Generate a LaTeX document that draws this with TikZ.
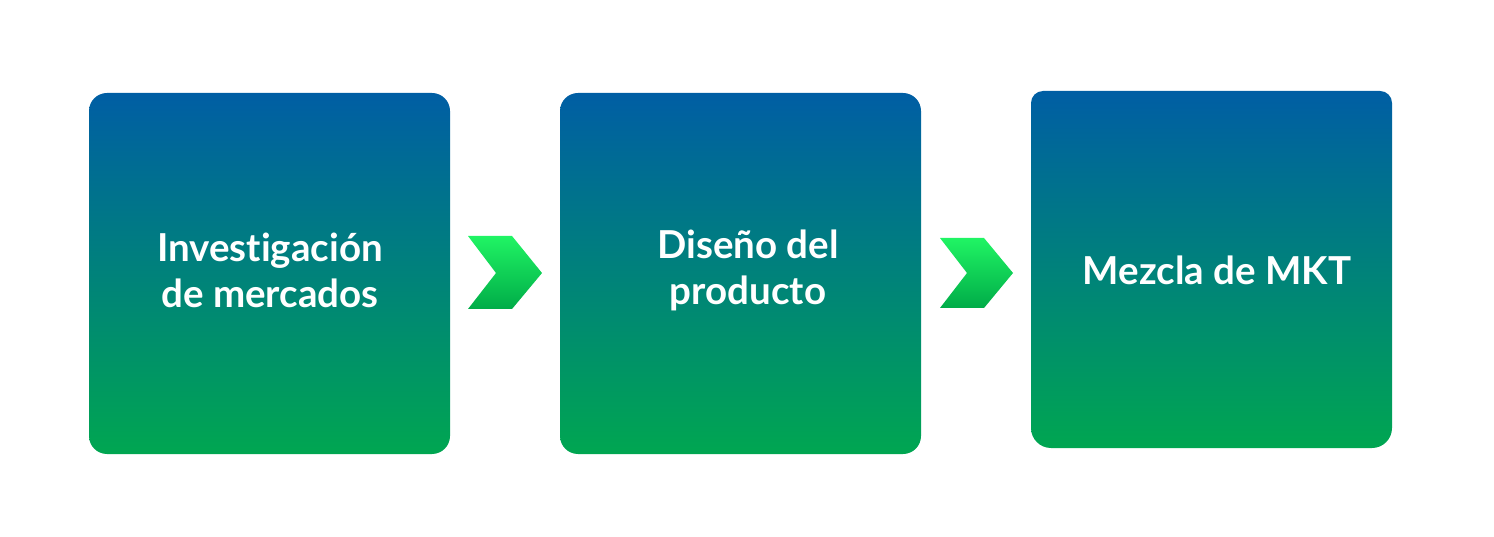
\documentclass[tikz,border=0pt]{standalone}
\usepackage{fontspec}
\setmainfont{Lato}[Ligatures=NoCommon]
\definecolor{boxtop}{RGB}{0,94,164}
\definecolor{boxbot}{RGB}{0,166,81}
\definecolor{chevtop}{RGB}{32,244,100}
\definecolor{chevbot}{RGB}{0,172,72}
\begin{document}
\begin{tikzpicture}[x=1pt,y=-1pt,
  box/.style={shade, top color=boxtop, bottom color=boxbot, draw=none,
    rounded corners=18pt, minimum width=361pt, minimum height=361pt,
    inner sep=0pt},
  boxtext/.style={text=white, align=center, inner sep=0pt,
    font=\bfseries\fontsize{38.5}{46}\selectfont},
  chev/.style={shade, top color=chevtop, bottom color=chevbot, draw=none}]
\useasboundingbox (0,0) rectangle (1494,537);
\node[box] (b1) at (269.5,273.5) {};
\node[box] (b2) at (740.5,273.5) {};
\path[shade, top color=boxtop, bottom color=boxbot]
  (1031,250) [rounded corners=12pt] -- (1031,91) -- (1392,91) [rounded corners=20pt] -- (1392,448) -- (1031,448) [sharp corners] -- cycle;
\coordinate (b3) at (1211.5,269.5);
\node[boxtext] (t1) at (270,270) {Investigación\\de mercados};
\node[boxtext] (t2) at (748,270) {Diseño del\\producto};
\node[boxtext] (t3) at (1217,270) {Mezcla de MKT};
\path[chev] (468,236) -- (512,236) -- (542,273) -- (512,309) -- (468,309) -- (496,273) -- cycle;
\path[chev] (940,238) -- (984,238) -- (1013,273) -- (984,308) -- (940,308) -- (967,273) -- cycle;
\end{tikzpicture}
\end{document}
